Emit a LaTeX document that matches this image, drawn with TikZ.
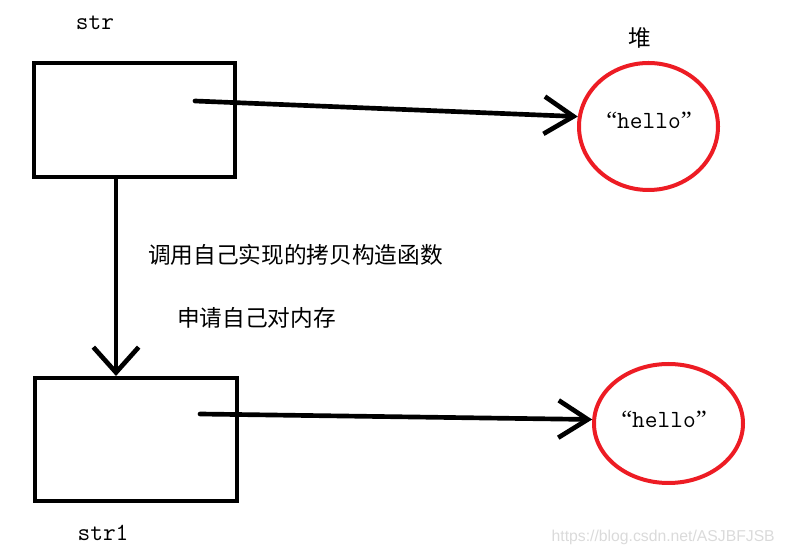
\documentclass[tikz,border=0pt]{standalone}
\usepackage{fontspec}
\setmainfont{Liberation Serif}
\newfontfamily\cjk{Noto Sans CJK SC}
\newfontfamily\websans{Liberation Sans}
\usetikzlibrary{arrows.meta,shapes.geometric}
\definecolor{heapred}{RGB}{237,28,36}
\definecolor{marklight}{RGB}{218,218,218}
\newcommand{\quoted}[1]{{\rmfamily“}#1{\rmfamily”}}

\begin{document}
\begin{tikzpicture}[x=0.75pt,y=-0.75pt,
    box/.style={draw, line width=3pt, inner sep=0pt},
    heap/.style={draw=heapred, ellipse, line width=3pt, inner sep=0pt},
    arr/.style={-{Straight Barb[length=22pt,width=28pt]}, line width=3.5pt,
      line cap=round, line join=round},
    cntext/.style={font=\cjk\fontsize{17}{20}\selectfont, anchor=west, inner sep=0pt},
    varname/.style={font=\ttfamily\fontsize{18.5}{20}\selectfont, inner sep=0pt}]
        \useasboundingbox (0,0) rectangle (786,555);

        % the two objects
        \node[box, minimum width=150.75pt, minimum height=85.5pt] (box1) at (134,120) {};
        \node[box, minimum width=151.5pt, minimum height=92.25pt] (box2) at (136,439.5) {};
        \node[varname] (name1) at (95,23) {str};
        \node[varname] (name2) at (103,533) {str1};

        % memory on the heap
        \node[heap, minimum width=104.25pt, minimum height=95.25pt] (heap1) at (648.5,126.5) {};
        \node[heap, minimum width=111.75pt, minimum height=89.25pt] (heap2) at (668.5,423.5) {};
        \node[varname] (hello1) at (649,120) {\quoted{hello}};
        \node[varname] (hello2) at (664,419) {\quoted{hello}};
        \node[font=\cjk\fontsize{17}{20}\selectfont, inner sep=0pt] (heaplbl) at (640,38) {堆};

        % pointers
        \coordinate (p1) at (195,101);
        \coordinate (p2) at (200,414);
        \draw[arr] (p1) -- (heap1.172);
        \draw[arr] (p2) -- (heap2.177);

        % copy
        \coordinate (cx) at (116,0);
        \draw[arr, -{Straight Barb[length=19pt,width=34pt]}] (box1.south -| cx) -- (box2.north -| cx);
        \node[cntext] (step1) at (148,255) {调用自己实现的拷贝构造函数};
        \node[cntext] (step2) at (177,318) {申请自己对内存};

        \node[font=\websans\fontsize{11.8}{13}\selectfont, text=marklight, anchor=east, inner sep=0pt] (mark) at (775,537) {https://blog.csdn.net/ASJBFJSB};
      \end{tikzpicture}
\end{document}
